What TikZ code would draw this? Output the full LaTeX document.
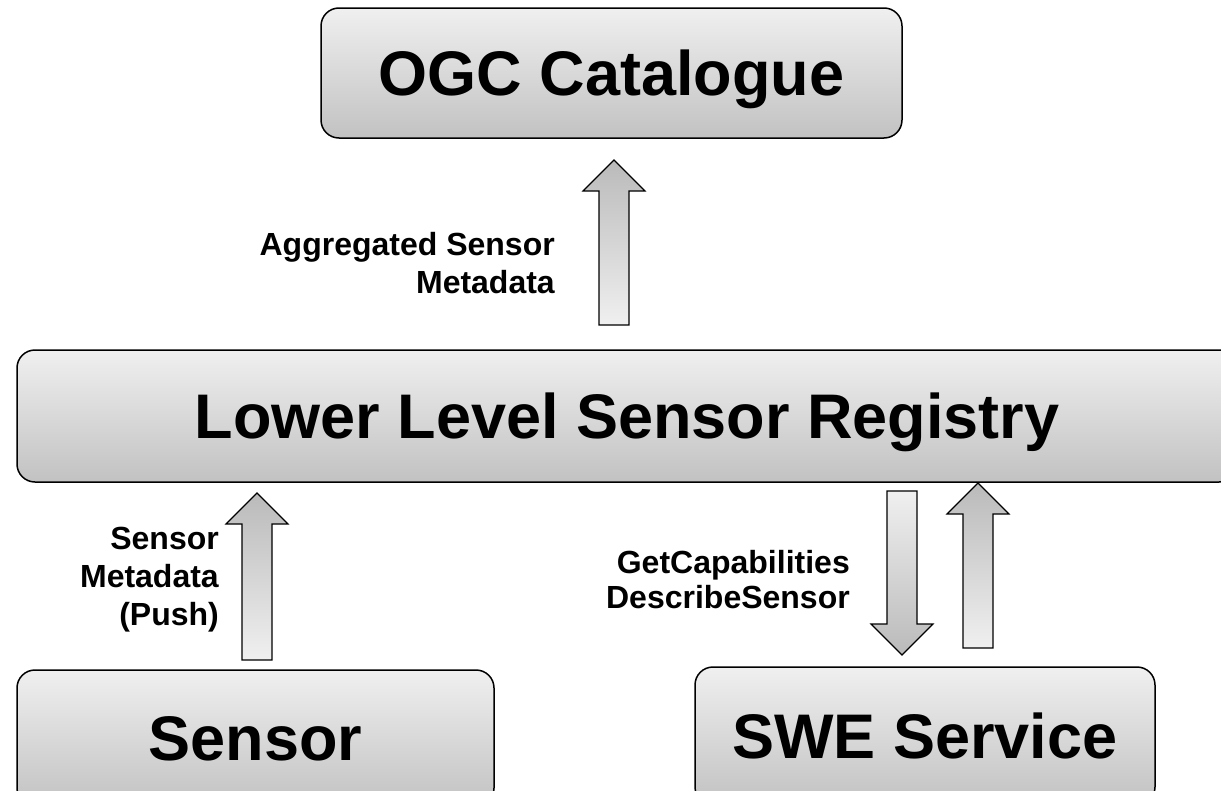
\documentclass[tikz,border=0pt]{standalone}
\usepackage{fontspec}
\setmainfont{Liberation Sans}
\usetikzlibrary{calc}

\definecolor{boxtop}{gray}{0.94}
\definecolor{boxbottom}{gray}{0.76}
\definecolor{headgray}{gray}{0.73}
\definecolor{tailgray}{gray}{0.94}

% block arrow from tail #1 to tip #2
\newcommand{\blockarrow}[3]{%
  \coordinate (#1neck) at ($(#2)!31pt!(#1)$);
  \draw[#3] ($(#1)!15pt!90:(#2)$) -- ($(#1neck)!15pt!90:(#2)$)
    -- ($(#1neck)!31pt!90:(#2)$) -- (#2)
    -- ($(#1neck)!31pt!-90:(#2)$) -- ($(#1neck)!15pt!-90:(#2)$)
    -- ($(#1)!15pt!-90:(#2)$) -- cycle;
}

\begin{document}
\begin{tikzpicture}[
  x=1pt, y=-1pt,
  box/.style = {
    rounded corners=18pt,
    draw=black,
    line width=1.5pt,
    top color=boxtop,
    bottom color=boxbottom,
    font=\fontsize{63}{70}\selectfont\bfseries,
    text height=45pt,
    text depth=0pt
  },
  label/.style = {
    anchor=north east,
    align=right,
    inner sep=0pt,
    font=\fontsize{32}{38}\selectfont\bfseries
  },
  uparrow/.style = {draw=black, line width=1.2pt, top color=headgray, bottom color=tailgray},
  downarrow/.style = {draw=black, line width=1.2pt, top color=tailgray, bottom color=headgray}
]
\useasboundingbox (0,0) rectangle (1221,790);
\clip (0,0) rectangle (1221,790);

% Boxes
\node[box, minimum width=581pt, minimum height=130pt] (ogc) at (611.5,73) {OGC Catalogue};
\node[box, minimum width=1220pt, minimum height=132pt] (llsr) at (627,416) {Lower Level Sensor Registry};
\node[box, minimum width=477pt, minimum height=136pt] (sensor) at (255.5,738) {Sensor};
\node[box, minimum width=460pt, minimum height=138pt] (swe) at (925,736) {SWE Service};

% Arrow ends
\coordinate (aggtail) at (614,325);
\coordinate (aggtip) at (614,160);
\coordinate (pushtail) at (257,660);
\coordinate (pushtip) at (257,493);
\coordinate (reqtail) at (902,491);
\coordinate (reqtip) at (902,655);
\coordinate (resptail) at (978,648);
\coordinate (resptip) at (978,483);

% === ARROWS ===
\blockarrow{aggtail}{aggtip}{uparrow}
\blockarrow{pushtail}{pushtip}{uparrow}
\blockarrow{reqtail}{reqtip}{downarrow}
\blockarrow{resptail}{resptip}{uparrow}

% Labels
\node[label] (agglabel) at (555,232) {Aggregated Sensor\\Metadata};
\node[label] (pushlabel) at (219,527) {Sensor\\Metadata\\(Push)};
\node[label] (reqlabel) at (850,550) {GetCapabilities\\[-3pt]DescribeSensor};

\end{tikzpicture}
\end{document}
